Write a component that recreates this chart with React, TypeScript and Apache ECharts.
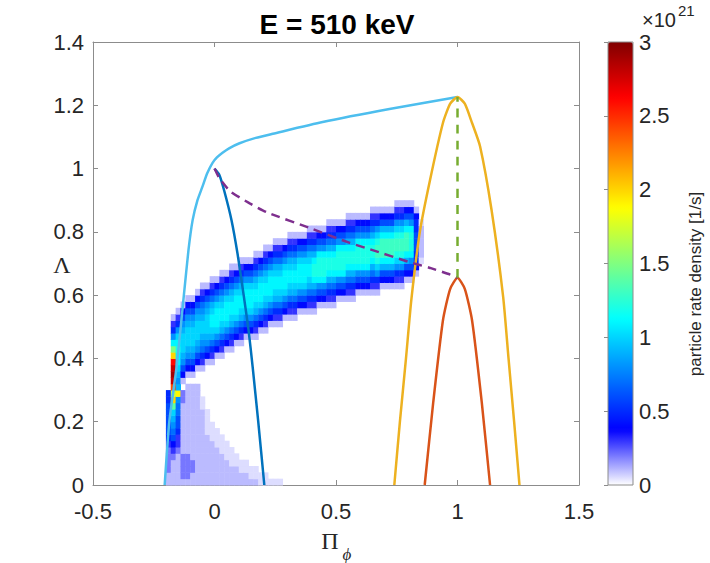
import React, { useEffect, useRef } from "react";
import * as echarts from "echarts";

// ---------- heat-map bins (Pi_phi step 0.02 from -0.21, Lambda step 0.02 from 0.01) ----------
const BIN_X0 = -0.21;
const BIN_DX = 0.02;
const BIN_Y0 = 0.01;
const BIN_DY = 0.02;

// [column index, first row index, densities going up]
// each character: base-36 digit / 10 (in 1e21 1/s); "+" = 0.05
const densityColumns: [number, number, string][] = [
  [1, 0, "112222356666655"],
  [2, 0, "11112346789aekhostsqkfb8531"],
  [3, 0, "11111233566778j989abbcba8531"],
  [4, 0, "122221111111122"],
  [4, 16, "14689aaa98641"],
  [5, 0, "1222211111111111"],
  [5, 17, "14689aaa98641"],
  [6, 0, "1122111111111111"],
  [6, 17, "14689aaa98641"],
  [7, 0, "1111111111111111"],
  [7, 18, "14689aaa98641"],
  [8, 0, "111111111111++"],
  [8, 18, "135789aa987531"],
  [9, 0, "11111111++++"],
  [9, 19, "14689aaa98641"],
  [10, 0, "1111111+++"],
  [10, 19, "13579abba97531"],
  [11, 0, "111111+++"],
  [11, 20, "1468abbba8641"],
  [12, 0, "11111+++"],
  [12, 20, "13579abba97531"],
  [13, 0, "1111+++"],
  [13, 21, "1468abbba8641"],
  [14, 0, "111+++"],
  [14, 21, "13579abba97531"],
  [15, 0, "111++"],
  [15, 22, "1468abbba8641"],
  [16, 0, "11++"],
  [16, 22, "13579abba97531"],
  [17, 0, "11++"],
  [17, 23, "1468abbba8641"],
  [18, 0, "1++"],
  [18, 23, "1468abbba8641"],
  [19, 0, "1++"],
  [19, 23, "13579abba97531"],
  [20, 0, "++"],
  [20, 24, "1468abbba8641"],
  [21, 0, "++"],
  [21, 24, "13579abba97531"],
  [22, 0, "+"],
  [22, 25, "1468abbba8641"],
  [23, 0, "+"],
  [23, 25, "13579abba97531"],
  [24, 0, "+"],
  [24, 25, "13579abba97531"],
  [25, 26, "1468abbba8641"],
  [26, 26, "13579abba97531"],
  [27, 26, "13579abba97531"],
  [28, 27, "1468abbba8641"],
  [29, 27, "1468abbba8641"],
  [30, 27, "13579abba97531"],
  [31, 27, "13579bccb97531"],
  [32, 28, "1468bcccb8641"],
  [33, 28, "1468bcccb8641"],
  [34, 28, "13579bccb97531"],
  [35, 28, "13579bccb97531"],
  [36, 29, "1468bcccb8641"],
  [37, 29, "1468bcccb8641"],
  [38, 29, "13579bccb97531"],
  [39, 29, "13579bccb97531"],
  [40, 30, "1468bcccb8641"],
  [41, 30, "1468bcccb8641"],
  [42, 30, "1468bcccb8641"],
  [43, 30, "13579bccb97531"],
  [44, 30, "1358acddca8531"],
  [45, 31, "1469bdddb9641"],
  [46, 31, "1469bdddb9641"],
  [47, 31, "1469bdddb9641"],
  [48, 31, "1358acddca8531"],
  [49, 31, "1358acddca8531"],
  [50, 32, "1469bdddb9641"],
  [51, 32, "1468bcccb8641"],
  [52, 33, "14556665541"],
  [53, 35, "+11111+"],
];

// ---------- boundary curves ----------
const upperX = [-0.205, -0.186, -0.156, -0.126, -0.107, -0.09, -0.07, -0.05, -0.03, -0.008, 0.01, 0.033, 0.06, 0.103, 0.17, 0.24, 0.445, 0.72, 1.0];
const upperY = [0, 0.2, 0.373, 0.6, 0.743, 0.837, 0.9, 0.942, 0.985, 1.018, 1.035, 1.05, 1.064, 1.08, 1.097, 1.11, 1.147, 1.188, 1.226];

const trappedX = [0, 0.02, 0.04, 0.07, 0.095, 0.12, 0.14, 0.157, 0.18, 0.205];
const trappedY = [1.0, 0.98, 0.93, 0.837, 0.73, 0.6, 0.49, 0.373, 0.2, 0];

const outerX = [0.74, 0.763, 0.788, 0.81, 0.845, 0.887, 0.94, 0.97, 1.0, 1.03, 1.06, 1.093, 1.14, 1.188, 1.21, 1.233, 1.255];
const outerY = [0, 0.2, 0.4, 0.585, 0.8, 0.964, 1.144, 1.205, 1.226, 1.205, 1.144, 1.07, 0.87, 0.594, 0.4, 0.2, 0];

const innerX = [0.865, 0.9, 0.94, 0.97, 1.0, 1.03, 1.06, 1.1, 1.134];
const innerY = [0, 0.26, 0.52, 0.62, 0.655, 0.62, 0.52, 0.26, 0];

const separatrixX = [0, 0.02, 0.065, 0.145, 0.215, 0.4, 0.557, 0.64, 0.8, 0.887, 0.97, 1.0];
const separatrixY = [1.0, 0.97, 0.928, 0.89, 0.862, 0.81, 0.765, 0.745, 0.705, 0.686, 0.665, 0.655];

const axisCutX = [1.0, 1.0];
const axisCutY = [0.655, 1.226];

const DENSITY_COLORS = ["#ffffff", "#0000ff", "#0080ff", "#00ffff", "#80ff80", "#ffff00", "#ff8000", "#ff0000", "#800000"];

const FONT = '"Liberation Sans", Arial, Helvetica, sans-serif';
const SERIF = '"Liberation Serif", "Times New Roman", serif';
const AXIS_GRAY = "#8c8c8c";
const LABEL = "#262626";

const zip = (xs: number[], ys: number[]) => xs.map((x, i) => [x, ys[i]]);

function buildCells(): number[][] {
  const cells: number[][] = [];
  densityColumns.forEach(([col, row0, s]) => {
    for (let i = 0; i < s.length; i++) {
      const ch = s[i];
      const v = ch === "+" ? 0.05 : parseInt(ch, 36) / 10;
      if (v > 0) cells.push([BIN_X0 + col * BIN_DX, BIN_Y0 + (row0 + i) * BIN_DY, v]);
    }
  });
  return cells;
}

function lineSeries(data: number[][], color: string, dash?: number[]) {
  return {
    type: "line",
    xAxisIndex: 0,
    yAxisIndex: 0,
    data,
    showSymbol: false,
    smooth: 0.2,
    silent: true,
    z: 3,
    itemStyle: { color },
    lineStyle: { color, width: 2.5, type: dash ? dash : "solid" },
  };
}

function txt(x: number, y: number, text: string, font: string, align: string, extra: any = {}) {
  return {
    type: "text",
    z: 100,
    x,
    y,
    silent: true,
    ...extra,
    style: {
      text,
      font,
      fill: extra.fill || LABEL,
      align,
      verticalAlign: "middle",
      textAlign: align,
      textVerticalAlign: "middle",
    },
  };
}

export default function App() {
  const ref = useRef<HTMLDivElement>(null);

  useEffect(() => {
    document.body.style.margin = "0";
    const chart = echarts.init(ref.current!, null, { renderer: "svg" });

    const boxAxis = {
      axisLine: { show: true, onZero: false, lineStyle: { color: AXIS_GRAY, width: 1 } },
      axisTick: { show: true, inside: true, length: 5, lineStyle: { color: AXIS_GRAY } },
      splitLine: { show: false },
    };

    const option: any = {
      animation: false,
      backgroundColor: "#ffffff",
      grid: [
        { left: 93, top: 42, width: 486, height: 443 },
        { left: 608, top: 42, width: 25, height: 443 },
      ],
      xAxis: [
        {
          type: "value", gridIndex: 0, min: -0.5, max: 1.5, interval: 0.5, position: "bottom",
          ...boxAxis,
          axisLabel: { color: LABEL, fontSize: 22, fontFamily: FONT, margin: 15 },
        },
        {
          type: "value", gridIndex: 0, min: -0.5, max: 1.5, interval: 0.5, position: "top",
          ...boxAxis,
          axisLabel: { show: false },
        },
        { type: "value", gridIndex: 1, min: 0, max: 1, show: false },
      ],
      yAxis: [
        {
          type: "value", gridIndex: 0, min: 0, max: 1.4, interval: 0.2, position: "left",
          ...boxAxis,
          axisLabel: { color: LABEL, fontSize: 22, fontFamily: FONT, margin: 9 },
        },
        {
          type: "value", gridIndex: 0, min: 0, max: 1.4, interval: 0.2, position: "right",
          ...boxAxis,
          axisLabel: { show: false },
        },
        {
          type: "value", gridIndex: 1, min: 0, max: 3, interval: 0.5, position: "right",
          axisLine: { show: false },
          axisTick: { show: true, inside: true, length: 4, lineStyle: { color: AXIS_GRAY } },
          splitLine: { show: false },
          axisLabel: { color: LABEL, fontSize: 22, fontFamily: FONT, margin: 6 },
        },
      ],
      visualMap: {
        type: "continuous",
        min: 0,
        max: 3,
        dimension: 2,
        seriesIndex: 0,
        show: true,
        calculable: false,
        hoverLink: false,
        left: 608,
        top: 42,
        padding: 0,
        itemWidth: 25,
        itemHeight: 443,
        inRange: { color: DENSITY_COLORS },
      },
      series: [
        {
          type: "custom",
          xAxisIndex: 0,
          yAxisIndex: 0,
          silent: true,
          z: 1,
          encode: { x: 0, y: 1 },
          data: buildCells(),
          renderItem: (_params: any, api: any) => {
            const x = api.value(0);
            const y = api.value(1);
            const a = api.coord([x - BIN_DX / 2, y + BIN_DY / 2]);
            const b = api.coord([x + BIN_DX / 2, y - BIN_DY / 2]);
            return {
              type: "rect",
              shape: { x: a[0], y: a[1], width: b[0] - a[0] + 0.5, height: b[1] - a[1] + 0.5 },
              style: { fill: api.visual("color") },
            };
          },
        },
        lineSeries(zip(upperX, upperY), "#4DBEEE"),
        lineSeries(zip(trappedX, trappedY), "#0072BD"),
        lineSeries(zip(outerX, outerY), "#EDB120"),
        lineSeries(zip(innerX, innerY), "#D95319"),
        lineSeries(zip(separatrixX, separatrixY), "#7E2F8E", [9, 6]),
        lineSeries(zip(axisCutX, axisCutY), "#77AC30", [9, 7]),
      ],
      graphic: [
        {
          type: "rect", z: 100, silent: true,
          shape: { x: 608, y: 42, width: 25, height: 443 },
          style: { fill: "none", stroke: AXIS_GRAY, lineWidth: 1 },
        },
        txt(337, 24, "E = 510 keV", `bold 28px ${FONT}`, "center", { fill: "#000000" }),
        txt(642, 20, "×10", `20px ${FONT}`, "left"),
        txt(678, 10, "21", `15px ${FONT}`, "left"),
        txt(695, 284, "particle rate density [1/s]", `17px ${FONT}`, "center", { rotation: Math.PI / 2 }),
        txt(62, 265, "Λ", `24px ${SERIF}`, "center"),
        txt(330, 541, "Π", `24px ${SERIF}`, "center"),
        txt(347, 554, "ϕ", `italic 17px ${SERIF}`, "center"),
      ],
    };

    chart.setOption(option);
    return () => chart.dispose();
  }, []);

  return <div ref={ref} style={{ width: 710, height: 563 }} />;
}
